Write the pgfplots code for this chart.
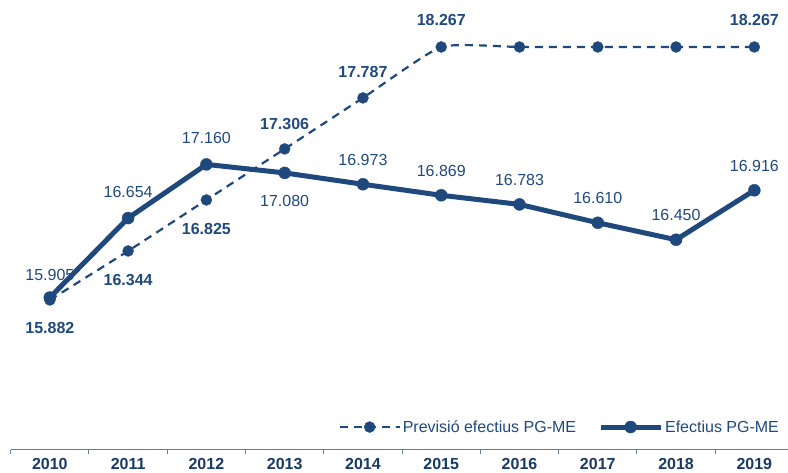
\documentclass[border=0pt]{standalone}
\usepackage{pgfplots}
\pgfplotsset{compat=1.18}
\usepackage{pgfplotstable}
\usepackage{fontspec}
\setmainfont{Liberation Sans}
\definecolor{navy}{RGB}{31,73,125}
\definecolor{axisblue}{RGB}{96,124,162}

% previsio (dashed), labels in bold
\pgfplotstableread{
x y dy lab
0 15882 -28 15.882
1 16344 -29 16.344
2 16825 -29 16.825
3 17306 25 17.306
4 17787 26 17.787
5 18267 27 18.267
6 18267 0 {}
7 18267 0 {}
8 18267 0 {}
9 18267 27 18.267
}\prevdata

% efectius (solid)
\pgfplotstableread{
x y dy lab
0 15905 23 15.905
1 16654 26 16.654
2 17160 26 17.160
3 17080 -28 17.080
4 16973 24 16.973
5 16869 24 16.869
6 16783 24 16.783
7 16610 25 16.610
8 16450 25 16.450
9 16916 24 16.916
}\efecdata

\begin{document}
\begin{tikzpicture}[font=\fontsize{16bp}{19bp}\selectfont]
\begin{axis}[
 scale only axis, width=777.3bp, height=450bp,
 xmin=-0.5, xmax=9.43, ymin=14468, ymax=18710,
 clip=false,
 axis x line*=bottom, axis y line=none,
 x axis line style={axisblue, line width=1bp},
 xtick={0,1,2,3,4,5,6,7,8,9},
 xticklabels={2010,2011,2012,2013,2014,2015,2016,2017,2018,2019},
 major tick length=0pt,
 minor xtick={-0.5,0.5,1.5,2.5,3.5,4.5,5.5,6.5,7.5,8.5},
 minor tick length=4bp, tick align=outside,
 minor tick style={axisblue, line width=1bp},
 xticklabel style={font=\fontsize{16bp}{19bp}\selectfont\bfseries, text=navy!80!black, yshift=-5bp},
 legend style={at={(0.995,0.051)}, anchor=east, draw=none, fill=none,
   legend columns=2, text=navy,
   /tikz/every even column/.append style={column sep=20bp}},
 legend image code/.code={\draw[mark repeat=2,mark phase=2,#1] plot coordinates {(0bp,0bp) (30bp,0bp) (60bp,0bp)};},
 nodes near coords,
 point meta=explicit symbolic,
 visualization depends on={\thisrow{dy}\as\dy},
]
\addplot[navy, line width=2.2bp, dash pattern=on 8bp off 6bp, smooth, tension=0.3,
  mark=*, mark size=5.5bp, mark options={solid, line width=0.4bp},
  nodes near coords style={anchor=center, yshift=\dy bp, font=\fontsize{16bp}{19bp}\selectfont\bfseries, text=navy}]
  table[x=x, y=y, meta=lab]{\prevdata};
\addlegendentry{Previsió efectius PG-ME}
\addplot[navy, line width=5bp, mark=*, mark size=6bp, mark options={line width=0.4bp},
  nodes near coords style={anchor=center, yshift=\dy bp, text=navy}]
  table[x=x, y=y, meta=lab]{\efecdata};
\addlegendentry{Efectius PG-ME}
\end{axis}
\pgfresetboundingbox
\path (current axis.south west) ++(-10.7bp,-23bp) rectangle (current axis.north east);
\end{tikzpicture}
\end{document}
